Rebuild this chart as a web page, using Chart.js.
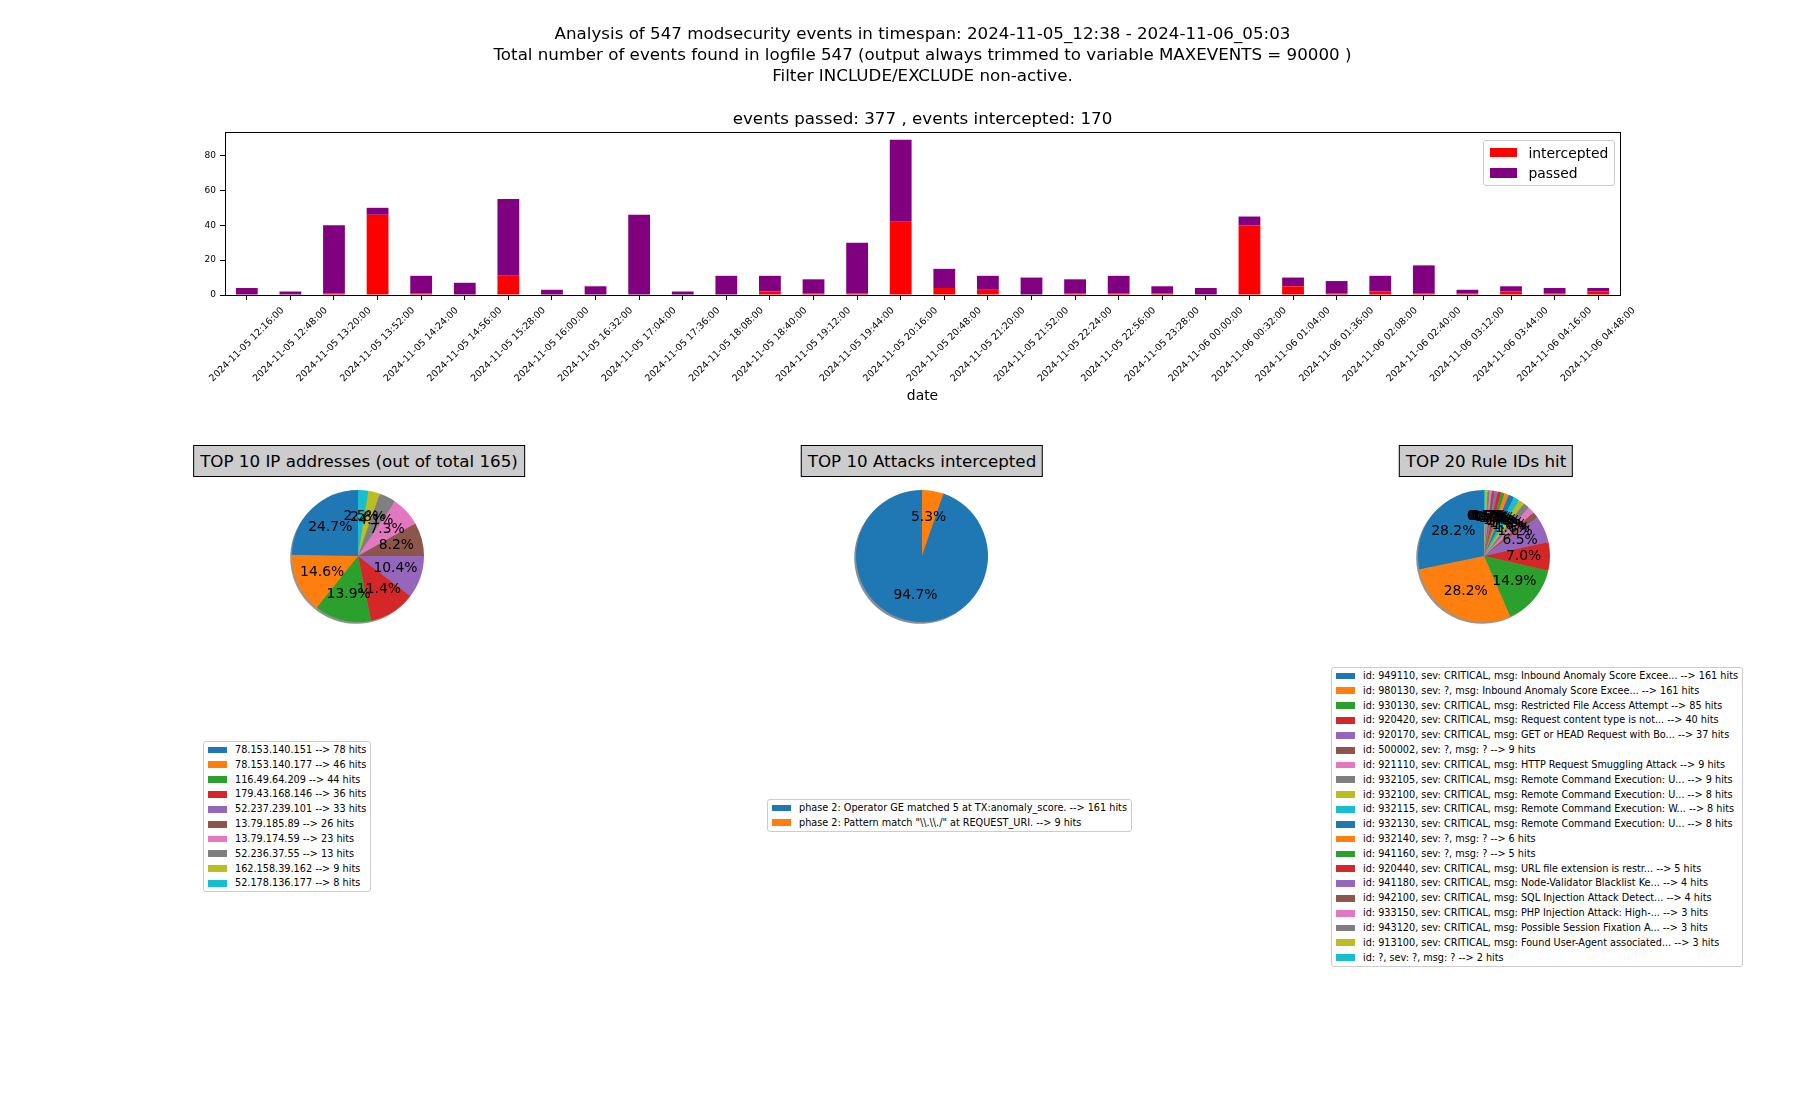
<!DOCTYPE html>
<html>
<head>
<meta charset="utf-8">
<script src="https://cdn.jsdelivr.net/npm/chart.js@4.4.0/dist/chart.umd.min.js"></script>
<style>
  body { margin: 0; background: #fff; font-family: "DejaVu Sans", sans-serif; }
  #page { position: relative; width: 1800px; height: 1100px; overflow: hidden; }
  canvas { position: absolute; }
  .pie-title {
    position: absolute; transform: translateX(-50%); white-space: nowrap;
    background: #cccccc; border: 1px solid #000; font-size: 16.7px;
    padding: 5px 6px 5px 6px; line-height: 20px; color: #000;
  }
  .legend {
    position: absolute; background: rgba(255,255,255,0.8);
    border: 1px solid #cccccc; border-radius: 3px; white-space: nowrap; color: #000;
  }
  .legend .row { display: flex; align-items: center; }
  .legend .swatch { display: inline-block; flex: none; }
</style>
</head>
<body>
<div id="page">
  <canvas id="events-chart" width="1545" height="420" style="left:150px; top:10px;"></canvas>
  <canvas id="ip-chart" width="150" height="150" style="left:283px; top:481px;"></canvas>
  <canvas id="attack-chart" width="150" height="150" style="left:847px; top:481px;"></canvas>
  <canvas id="rule-chart" width="150" height="150" style="left:1409px; top:481px;"></canvas>
</div>
<script>
// Time buckets of the events histogram
const timeLabels = [
    '2024-11-05 12:16:00', '2024-11-05 12:48:00', '2024-11-05 13:20:00', '2024-11-05 13:52:00',
    '2024-11-05 14:24:00', '2024-11-05 14:56:00', '2024-11-05 15:28:00', '2024-11-05 16:00:00',
    '2024-11-05 16:32:00', '2024-11-05 17:04:00', '2024-11-05 17:36:00', '2024-11-05 18:08:00',
    '2024-11-05 18:40:00', '2024-11-05 19:12:00', '2024-11-05 19:44:00', '2024-11-05 20:16:00',
    '2024-11-05 20:48:00', '2024-11-05 21:20:00', '2024-11-05 21:52:00', '2024-11-05 22:24:00',
    '2024-11-05 22:56:00', '2024-11-05 23:28:00', '2024-11-06 00:00:00', '2024-11-06 00:32:00',
    '2024-11-06 01:04:00', '2024-11-06 01:36:00', '2024-11-06 02:08:00', '2024-11-06 02:40:00',
    '2024-11-06 03:12:00', '2024-11-06 03:44:00', '2024-11-06 04:16:00', '2024-11-06 04:48:00'
];
const intercepted = [0, 0, 1, 46, 1, 0, 11, 0, 0, 0, 0, 0, 2, 1, 1, 42, 4, 3, 0, 1, 1, 1, 0, 40, 5, 1, 2, 1, 1, 2, 1, 2];
const passed = [4, 2, 39, 4, 10, 7, 44, 3, 5, 46, 2, 11, 9, 8, 29, 47, 11, 8, 10, 8, 10, 4, 4, 5, 5, 7, 9, 16, 2, 3, 3, 2];
const yTicks = [0, 20, 40, 60, 80];
const yMax = 93.45;

const titleLines = [
    'Analysis of 547 modsecurity events in timespan: 2024-11-05_12:38 - 2024-11-06_05:03',
    'Total number of events found in logfile 547 (output always trimmed to variable MAXEVENTS = 90000 )',
    'Filter INCLUDE/EXCLUDE non-active.',
    '',
    'events passed: 377 , events intercepted: 170'
];

// TOP 10 IP addresses
const ipAddresses = ['78.153.140.151', '78.153.140.177', '116.49.64.209', '179.43.168.146', '52.237.239.101',
    '13.79.185.89', '13.79.174.59', '52.236.37.55', '162.158.39.162', '52.178.136.177'];
const ipHits = [78, 46, 44, 36, 33, 26, 23, 13, 9, 8];

// TOP 10 attacks intercepted
const attackMsgs = ['phase 2: Operator GE matched 5 at TX:anomaly_score.',
    'phase 2: Pattern match "\\\\.\\\\./" at REQUEST_URI.'];
const attackHits = [161, 9];

// TOP 20 rule ids
const ruleIds = ['949110', '980130', '930130', '920420', '920170', '500002', '921110', '932105', '932100', '932115',
    '932130', '932140', '941160', '920440', '941180', '942100', '933150', '943120', '913100', '?'];
const ruleSev = ['CRITICAL', '?', 'CRITICAL', 'CRITICAL', 'CRITICAL', '?', 'CRITICAL', 'CRITICAL', 'CRITICAL', 'CRITICAL',
    'CRITICAL', '?', '?', 'CRITICAL', 'CRITICAL', 'CRITICAL', 'CRITICAL', 'CRITICAL', 'CRITICAL', '?'];
const ruleMsgs = ['Inbound Anomaly Score Excee...', 'Inbound Anomaly Score Excee...', 'Restricted File Access Attempt',
    'Request content type is not...', 'GET or HEAD Request with Bo...', '?', 'HTTP Request Smuggling Attack',
    'Remote Command Execution: U...', 'Remote Command Execution: U...', 'Remote Command Execution: W...',
    'Remote Command Execution: U...', '?', '?', 'URL file extension is restr...', 'Node-Validator Blacklist Ke...',
    'SQL Injection Attack Detect...', 'PHP Injection Attack: High-...', 'Possible Session Fixation A...',
    'Found User-Agent associated...', '?'];
const ruleHits = [161, 161, 85, 40, 37, 9, 9, 9, 8, 8, 8, 6, 5, 5, 4, 4, 3, 3, 3, 2];

const tab10 = ['#1f77b4', '#ff7f0e', '#2ca02c', '#d62728', '#9467bd', '#8c564b', '#e377c2', '#7f7f7f', '#bcbd22', '#17becf'];

Chart.defaults.font.family = '"DejaVu Sans", sans-serif';
Chart.defaults.color = '#000';

function colorsFor(n) {
    return Array.from({ length: n }, (_, i) => tab10[i % tab10.length]);
}

// Full box round the plot area, like the matplotlib spines
const axesFrame = {
    id: 'axesFrame',
    afterDraw(chart) {
        const { ctx, chartArea } = chart;
        ctx.save();
        ctx.strokeStyle = '#000';
        ctx.lineWidth = 1;
        const l = Math.round(chartArea.left) + 0.5, t = Math.round(chartArea.top) + 0.5;
        const r = Math.round(chartArea.right) + 0.5, b = Math.round(chartArea.bottom) + 0.5;
        ctx.strokeRect(l, t, r - l, b - t);
        ctx.restore();
    }
};

// Rotated x tick labels centred under the ticks, plus the axis label
const xLabels = {
    id: 'xLabels',
    afterDraw(chart) {
        const { ctx, chartArea } = chart;
        const xScale = chart.scales.x;
        ctx.save();
        ctx.fillStyle = '#000';
        ctx.font = '9.5px "DejaVu Sans"';
        ctx.textAlign = 'center';
        ctx.textBaseline = 'middle';
        const s = Math.SQRT1_2;
        timeLabels.forEach((label, i) => {
            const x = xScale.getPixelForValue(i);
            const w = ctx.measureText(label).width;
            const h = 11;
            const boxH = (w + h) * s;
            const y = chartArea.bottom + 10 + boxH / 2;
            ctx.save();
            ctx.translate(x, y);
            ctx.rotate(-Math.PI / 4);
            ctx.fillText(label, 0, 0);
            ctx.restore();
        });
        ctx.font = '13.9px "DejaVu Sans"';
        ctx.fillText('date', (chartArea.left + chartArea.right) / 2, 386);
        ctx.restore();
    }
};

new Chart(document.getElementById('events-chart'), {
    type: 'bar',
    data: {
        labels: timeLabels,
        datasets: [
            { label: 'intercepted', data: intercepted, backgroundColor: '#ff0000', barPercentage: 0.5, categoryPercentage: 1.0 },
            { label: 'passed', data: passed, backgroundColor: '#800080', barPercentage: 0.5, categoryPercentage: 1.0 }
        ]
    },
    options: {
        animation: false,
        responsive: false,
        layout: { padding: { right: 75, left: 0 } },
        plugins: {
            legend: { display: false },
            tooltip: { enabled: false },
            title: {
                display: true,
                fullSize: false,
                text: titleLines,
                color: '#000',
                font: { size: 16.7, weight: 'normal', lineHeight: 1.27 },
                padding: { top: 13.8, bottom: 2.2 }
            }
        },
        scales: {
            x: {
                stacked: true,
                grid: { drawOnChartArea: false, offset: false, color: '#000', tickLength: 5 },
                border: { color: '#000' },
                ticks: { display: false, autoSkip: false },
                afterFit: (scale) => { scale.height = 135; }
            },
            y: {
                stacked: true,
                min: 0,
                max: yMax,
                afterBuildTicks: (scale) => { scale.ticks = yTicks.map(v => ({ value: v })); },
                ticks: { font: { size: 9 }, padding: 4, color: '#000' },
                grid: { drawOnChartArea: false, color: '#000', tickLength: 5 },
                border: { color: '#000' },
                afterFit: (scale) => { scale.width = 75; }
            }
        }
    },
    plugins: [axesFrame, xLabels]
});

// Shadow under the pie, offset down-left like matplotlib's shadow=True
const pieShadow = {
    id: 'pieShadow',
    beforeDatasetsDraw(chart) {
        const { ctx } = chart;
        const meta = chart.getDatasetMeta(0);
        const colors = chart.data.datasets[0].backgroundColor;
        ctx.save();
        meta.data.forEach((arc, i) => {
            const p = arc.getProps(['x', 'y', 'startAngle', 'endAngle', 'outerRadius'], true);
            const c = colors[i];
            const r = parseInt(c.slice(1, 3), 16) * 0.3, g = parseInt(c.slice(3, 5), 16) * 0.3, b = parseInt(c.slice(5, 7), 16) * 0.3;
            ctx.fillStyle = `rgba(${r},${g},${b},0.5)`;
            ctx.beginPath();
            ctx.moveTo(p.x - 1.8, p.y + 1.8);
            ctx.arc(p.x - 1.8, p.y + 1.8, p.outerRadius, p.startAngle, p.endAngle);
            ctx.closePath();
            ctx.fill();
        });
        ctx.restore();
    }
};

// Percentage labels at 0.6 of the radius
const piePercent = {
    id: 'piePercent',
    afterDatasetsDraw(chart) {
        const { ctx } = chart;
        const meta = chart.getDatasetMeta(0);
        const values = chart.data.datasets[0].data;
        const total = values.reduce((a, b) => a + b, 0);
        ctx.save();
        ctx.fillStyle = '#000';
        ctx.font = '13.9px "DejaVu Sans"';
        ctx.textAlign = 'center';
        ctx.textBaseline = 'middle';
        // reversed data, so draw from the end to keep matplotlib's stacking
        for (let i = meta.data.length - 1; i >= 0; i--) {
            const p = meta.data[i].getProps(['x', 'y', 'startAngle', 'endAngle', 'outerRadius'], true);
            const mid = (p.startAngle + p.endAngle) / 2;
            const x = p.x + Math.cos(mid) * p.outerRadius * 0.6;
            const y = p.y + Math.sin(mid) * p.outerRadius * 0.6;
            ctx.fillText((values[i] / total * 100).toFixed(1) + '%', x, y);
        }
        ctx.restore();
    }
};

// matplotlib goes counter-clockwise from the top, Chart.js clockwise: feed reversed data
function createPie(canvasId, values) {
    const colors = colorsFor(values.length);
    new Chart(document.getElementById(canvasId), {
        type: 'pie',
        data: {
            labels: values.map((_, i) => String(i)).reverse(),
            datasets: [{
                data: values.slice().reverse(),
                backgroundColor: colors.slice().reverse(),
                borderWidth: 0
            }]
        },
        options: {
            animation: false,
            responsive: false,
            layout: { padding: 9 },
            plugins: { legend: { display: false }, tooltip: { enabled: false } }
        },
        plugins: [pieShadow, piePercent]
    });
}

function addTitleBox(text, centerX, top) {
    const div = document.createElement('div');
    div.className = 'pie-title';
    div.textContent = text;
    div.style.left = centerX + 'px';
    div.style.top = top + 'px';
    document.getElementById('page').appendChild(div);
}

// matplotlib-like legend box: rows of swatch + text at a fixed pitch
function addLegend(labels, colors, left, top, fontSize, rowH, gap) {
    const box = document.createElement('div');
    box.className = 'legend';
    box.style.left = left + 'px';
    box.style.top = top + 'px';
    box.style.fontSize = fontSize + 'px';
    box.style.padding = (0.4 * fontSize - 1) + 'px ' + (0.4 * fontSize) + 'px';
    labels.forEach((label, i) => {
        const row = document.createElement('div');
        row.className = 'row';
        row.style.height = rowH + 'px';
        row.style.lineHeight = rowH + 'px';
        if (i > 0) row.style.marginTop = gap + 'px';
        const sw = document.createElement('span');
        sw.className = 'swatch';
        sw.style.width = (2 * fontSize) + 'px';
        sw.style.height = (0.7 * fontSize) + 'px';
        sw.style.background = colors[i];
        sw.style.marginRight = (0.8 * fontSize) + 'px';
        const txt = document.createElement('span');
        txt.textContent = label;
        row.appendChild(sw);
        row.appendChild(txt);
        box.appendChild(row);
    });
    document.getElementById('page').appendChild(box);
}

createPie('ip-chart', ipHits);
createPie('attack-chart', attackHits);
createPie('rule-chart', ruleHits);

addTitleBox('TOP 10 IP addresses (out of total 165)', 359, 445);
addTitleBox('TOP 10 Attacks intercepted', 922, 445);
addTitleBox('TOP 20 Rule IDs hit', 1486, 445);

addLegend(['intercepted', 'passed'], ['#ff0000', '#800080'], 1483, 140, 13.9, 14, 6.8);
addLegend(ipAddresses.map((ip, i) => `${ip} --> ${ipHits[i]} hits`), colorsFor(ipHits.length), 203, 741, 9.7, 10.2, 4.65);
addLegend(attackMsgs.map((m, i) => `${m} --> ${attackHits[i]} hits`), colorsFor(attackHits.length), 767, 799, 9.7, 10.2, 4.65);
addLegend(ruleIds.map((id, i) => `id: ${id}, sev: ${ruleSev[i]}, msg: ${ruleMsgs[i]} --> ${ruleHits[i]} hits`),
    colorsFor(ruleHits.length), 1331, 667, 9.7, 10.2, 4.65);
</script>
</body>
</html>
